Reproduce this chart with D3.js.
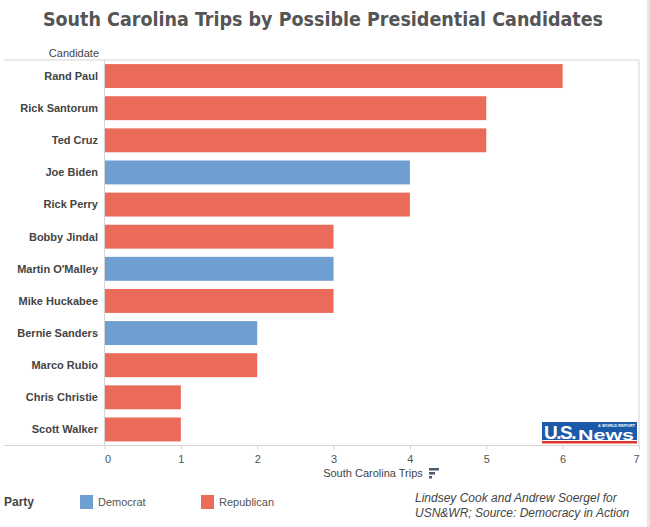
<!DOCTYPE html>
<html>
<head>
<meta charset="utf-8">
<script src="https://cdn.jsdelivr.net/npm/d3@7"></script>
<style>
  body { margin: 0; background: #fff; }
  svg { display: block; }
</style>
</head>
<body>
<div id="chart"></div>
<script>
// data
var candidates = ["Rand Paul", "Rick Santorum", "Ted Cruz", "Joe Biden", "Rick Perry", "Bobby Jindal",
    "Martin O'Malley", "Mike Huckabee", "Bernie Sanders", "Marco Rubio", "Chris Christie", "Scott Walker"];
var trips = [6, 5, 5, 4, 4, 3, 3, 3, 2, 2, 1, 1];
var party = ["Republican", "Republican", "Republican", "Democrat", "Republican", "Republican",
    "Democrat", "Republican", "Democrat", "Republican", "Republican", "Republican"];
var parties = ["Democrat", "Republican"];
var xTicks = [0, 1, 2, 3, 4, 5, 6, 7];

var width = 650, height = 527;
var plot = { left: 104.5, right: 639, top: 60, bottom: 445.5 };

function cscale(p) {
    if (p === "Democrat") {
        return "#6f9fd1"
    } else {
        return "#ea6b5a"
    }
}

var svg = d3.select("#chart").append("svg")
    .attr("width", width)
    .attr("height", height)
    .style("font-family", "'Liberation Sans', Arial, sans-serif");

// gray strip on the right edge
svg.append("rect")
    .attr("x", 647).attr("y", 0)
    .attr("width", 3).attr("height", height)
    .attr("fill", "#e6e6e6");

// title
svg.append("text")
    .attr("x", 323)
    .attr("y", 26)
    .attr("text-anchor", "middle")
    .style("font-family", "'DejaVu Sans Condensed', 'DejaVu Sans', sans-serif")
    .style("font-weight", "bold")
    .style("font-size", "19.5px")
    .attr("fill", "#555")
    .text("South Carolina Trips by Possible Presidential Candidates");

svg.append("text")
    .attr("x", 99)
    .attr("y", 57)
    .attr("text-anchor", "end")
    .style("font-size", "11px")
    .attr("fill", "#444")
    .text("Candidate");

// scales
var x = d3.scaleLinear().domain([0, 7]).range([plot.left, plot.right]);
var y = d3.scaleBand().domain(candidates).range([plot.top, plot.bottom])
    .paddingInner(0.255).paddingOuter(0.1275);

// frame lines
svg.append("line")
    .attr("x1", 4).attr("x2", plot.right)
    .attr("y1", plot.top).attr("y2", plot.top)
    .attr("stroke", "#d4d4d4");
svg.append("line")
    .attr("x1", plot.right).attr("x2", plot.right)
    .attr("y1", plot.top).attr("y2", plot.bottom)
    .attr("stroke", "#d4d4d4");
svg.append("line")
    .attr("x1", plot.left).attr("x2", plot.left)
    .attr("y1", plot.top).attr("y2", plot.bottom)
    .attr("stroke", "#d4d4d4");

// bars
svg.selectAll(".bar")
    .data(candidates)
    .enter().append("rect")
    .attr("class", "bar")
    .attr("x", x(0) + 0.5)
    .attr("y", function (d) { return y(d) })
    .attr("width", function (d, i) { return x(trips[i]) - x(0) - 0.5 })
    .attr("height", y.bandwidth())
    .attr("fill", function (d, i) { return cscale(party[i]) });

// candidate labels
svg.selectAll(".rowLabel")
    .data(candidates)
    .enter().append("text")
    .attr("class", "rowLabel")
    .attr("x", 98)
    .attr("y", function (d) { return y(d) + y.bandwidth() / 2 })
    .attr("dy", "0.35em")
    .attr("text-anchor", "end")
    .style("font-size", "11px")
    .style("font-weight", "bold")
    .attr("fill", "#444")
    .text(function (d) { return d });

// x axis
var xAxis = svg.append("g")
    .attr("transform", "translate(0," + plot.bottom + ")")
    .call(d3.axisBottom(x).tickValues(xTicks).tickSize(4).tickPadding(6).tickFormat(d3.format("d")));
xAxis.select(".domain").remove();
xAxis.selectAll(".tick line").attr("stroke", "#d4d4d4");
xAxis.selectAll(".tick text")
    .style("font-size", "11px")
    .style("font-family", "'Liberation Sans', Arial, sans-serif")
    .attr("fill", "#555")
    .attr("dx", function (d) { return d === 0 ? 3 : (d === 7 ? -3 : 0) });
svg.append("line")
    .attr("x1", 4).attr("x2", plot.right)
    .attr("y1", plot.bottom).attr("y2", plot.bottom)
    .attr("stroke", "#d4d4d4");

// axis title with sort icon
svg.append("text")
    .attr("x", 373)
    .attr("y", 477)
    .attr("text-anchor", "middle")
    .style("font-size", "11px")
    .attr("fill", "#444")
    .text("South Carolina Trips");
var sortIcon = svg.append("g").attr("fill", "#4b5a6c");
[[429, 468, 10], [429, 472, 6], [429, 476, 3]].forEach(function (r) {
    sortIcon.append("rect").attr("x", r[0]).attr("y", r[1]).attr("width", r[2]).attr("height", 2.5);
});

// legend
svg.append("text")
    .attr("x", 4)
    .attr("y", 506)
    .style("font-size", "12px")
    .style("font-weight", "bold")
    .attr("fill", "#444")
    .text("Party");

var legend = svg.selectAll(".legendItem")
    .data(parties)
    .enter().append("g")
    .attr("class", "legendItem")
    .attr("transform", function (d, i) { return "translate(" + (80 + i * 121) + ",495)" });
legend.append("rect")
    .attr("width", 13).attr("height", 14)
    .attr("fill", function (d) { return cscale(d) });
legend.append("text")
    .attr("x", 18)
    .attr("y", 11)
    .style("font-size", "11px")
    .attr("fill", "#555")
    .text(function (d) { return d });

// credits
svg.append("text")
    .attr("x", 415)
    .attr("y", 502)
    .style("font-size", "12px")
    .style("font-style", "italic")
    .attr("fill", "#444")
    .text("Lindsey Cook and Andrew Soergel for");
svg.append("text")
    .attr("x", 415)
    .attr("y", 517)
    .style("font-size", "12px")
    .style("font-style", "italic")
    .attr("fill", "#444")
    .text("USN&WR; Source: Democracy in Action");

// US News logo
var logo = svg.append("g").attr("transform", "translate(542,422)");
logo.append("rect").attr("width", 95).attr("height", 18).attr("fill", "#1a5aa8");
logo.append("rect").attr("y", 18).attr("width", 95).attr("height", 3).attr("fill", "#fff");
logo.append("rect").attr("y", 19).attr("width", 95).attr("height", 2.5).attr("fill", "#e0322e");
logo.append("text")
    .attr("x", 2).attr("y", 17)
    .style("font-size", "19px")
    .style("font-weight", "bold")
    .style("letter-spacing", "-1.5px")
    .attr("fill", "#fff")
    .text("U.S.");
logo.append("text")
    .attr("x", 36).attr("y", 17.5)
    .attr("textLength", 56)
    .attr("lengthAdjust", "spacingAndGlyphs")
    .style("font-size", "14px")
    .style("font-weight", "bold")
    .attr("fill", "#fff")
    .text("News");
logo.append("text")
    .attr("x", 93).attr("y", 4.5)
    .attr("text-anchor", "end")
    .style("font-size", "4px")
    .style("font-weight", "bold")
    .attr("fill", "#fff")
    .text("& WORLD REPORT");
</script>
</body>
</html>
